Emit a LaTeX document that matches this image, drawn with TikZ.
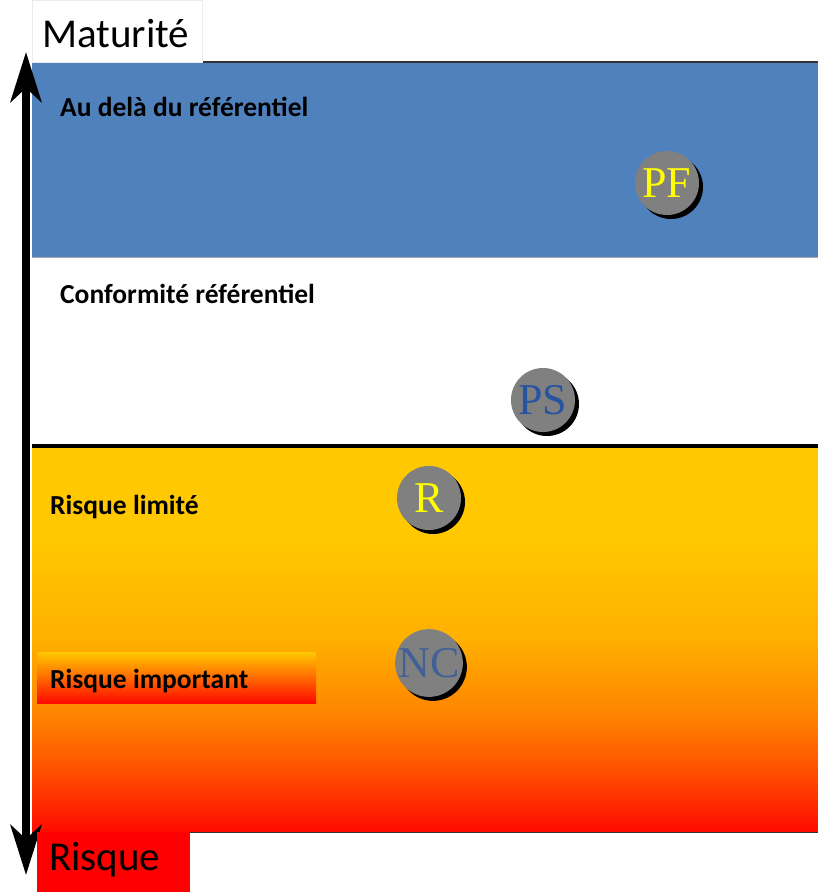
\documentclass[tikz,border=0pt]{standalone}
\usepackage{fontspec}
\setmainfont{Liberation Serif}
\setsansfont{Carlito}
\usetikzlibrary{positioning}
\usetikzlibrary{calc,arrows.meta,backgrounds}
\usetikzlibrary{shadows}

\definecolor{bleuzone}{RGB}{79,129,189}
\definecolor{jaunezone}{RGB}{255,200,0}
\definecolor{orangeclair}{RGB}{255,176,0}
\definecolor{orangezone}{RGB}{255,128,0}
\definecolor{orangefonce}{RGB}{255,80,0}
\definecolor{rougezone}{RGB}{255,10,0}
\definecolor{bleutexte}{RGB}{38,84,160}
\definecolor{jaunetexte}{RGB}{255,255,0}

% tikz fits the middle 50bp (25bp--75bp) to the path
\pgfdeclareverticalshading{degrade}{100bp}{%
  color(0bp)=(rougezone); color(25bp)=(rougezone); color(33bp)=(orangefonce);
  color(39.5bp)=(orangezone); color(50bp)=(orangeclair);
  color(63bp)=(jaunezone); color(100bp)=(jaunezone)}

\tikzset{
  bulle/.style={circle,fill=gray,minimum size=64pt,inner sep=0pt,
    font=\fontsize{44}{44}\selectfont,
    drop shadow={shadow xshift=4pt,shadow yshift=-4pt,opacity=1,fill=black}},
  zonetexte/.style={anchor=base west,inner sep=0pt,font=\sffamily\bfseries\fontsize{27.5}{27.5}\selectfont},
  axetexte/.style={inner sep=0pt,font=\sffamily\fontsize{41}{41}\selectfont},
  fleche/.tip={Stealth[length=50pt,width=31pt,inset=14pt]}
}

\begin{document}
\begin{tikzpicture}[x=1pt,y=-1pt]
		\useasboundingbox (0,0) rectangle (818,892);
		% zones
		\fill[bleuzone] (32,62) rectangle (818,257);
		\draw[black!80,line width=1.2pt] (32,62) -- (818,62);
		\draw[gray!70,line width=0.6pt] (32,257) -- (818,257);
		\shade[shading=degrade] (32,447) rectangle (818,832);
		\draw[black!80,line width=1pt] (32,832) -- (818,832);
		\draw[black,line width=4pt] (32,446) -- (818,446);
		% axe
		\coordinate (haut) at (26,52);
		\coordinate (bas) at (26,875);
		\draw[line width=8pt,fleche-fleche] (haut) -- (bas);
		% etiquettes des axes
		\node[fill=white,draw=black!8,minimum width=170pt,minimum height=62pt,anchor=north west] (maturite) at (32,0) {};
		\node[axetexte,anchor=west] at ([xshift=10pt,yshift=-2pt]maturite.west) {Maturité};
		\node[fill=red,minimum width=153pt,minimum height=60pt,anchor=north west] (risque) at (37,832) {};
		\node[axetexte,anchor=west] at ([xshift=12pt,yshift=3pt]risque.west) {Risque};
		% zones textes
		\node[zonetexte] (depasse) at (60,116) {Au delà du référentiel};
		\node[zonetexte] (conforme) at (60,303) {Conformité référentiel};
		\node[zonetexte] (limite) at (50,514) {Risque limité};
		\shade[top color=jaunezone,bottom color=rougezone] (37,652) rectangle (316,703);
		\node[zonetexte] (important) at (50,688) {Risque important};
		% bulles
		\node[bulle,text=jaunetexte] (pf) at (667,183) {PF};
		\node[bulle,text=bleutexte] (ps) at (543,400) {PS};
		\node[bulle,text=jaunetexte] (r) at (429,498) {R};
		\node[bulle,text=bleutexte!70!gray] (nc) at (429,663) {NC};
\end{tikzpicture}
\end{document}
